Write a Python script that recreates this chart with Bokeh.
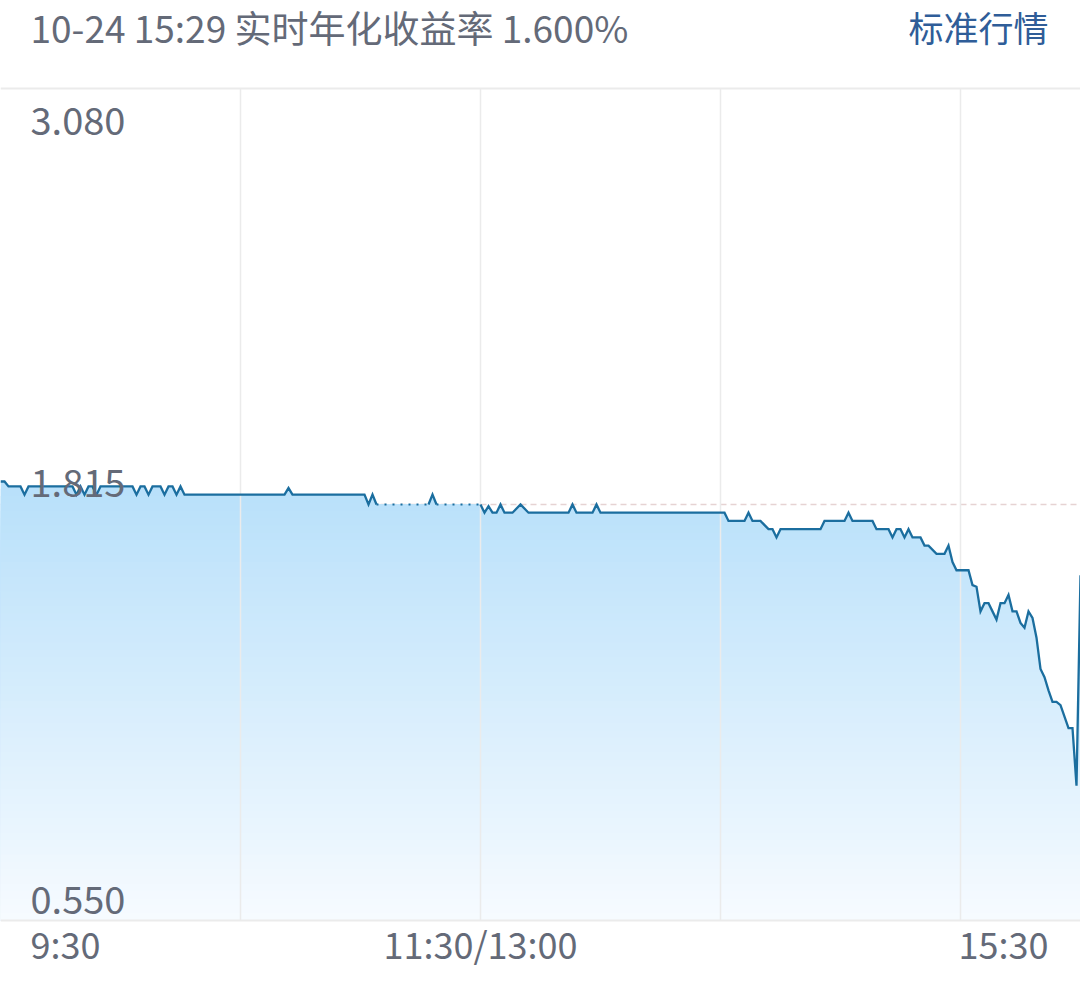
import numpy as np
from bokeh.plotting import figure
from bokeh.models import Range1d, Label
from bokeh.embed import file_html
from bokeh.resources import INLINE

# ---------------- data ----------------
date_str = "10-24"
time_str = "15:29"
metric_name = "实时年化收益率"
latest_rate = 1.600
right_title = "标准行情"

prev_close = 1.815
y_min, y_max = 0.550, 3.080
y_tick_vals = [3.080, 1.815, 0.550]
y_tick_labels = ["3.080", "1.815", "0.550"]

session_minutes = 270          # 9:30-11:30 + 13:00-15:30
x_tick_vals = [0, 120, 270]
x_tick_labels = ["9:30", "11:30/13:00", "15:30"]
grid_minutes = [60, 120, 180, 240]

# vertices of the intraday line (minute since 9:30, rate)
minute = [0, 1, 2,
          5, 6, 7,
          18, 19, 20, 21, 22,
          23, 24, 25,
          33, 34, 35,
          36, 37, 38,
          40, 41, 42,
          43, 44, 45, 46,
          71, 72, 73,
          91, 92, 93, 94,
          107, 108, 109,
          120, 121, 122, 123, 124, 125, 126, 128, 130, 132,
          142, 143, 144, 148, 149, 150,
          181, 182, 186, 187, 188, 190, 192, 193, 194, 195,
          205, 206, 211, 212, 213, 218, 219,
          222, 223, 224, 225, 226, 227, 228, 230, 231, 232, 234, 236, 237, 238, 239,
          242, 243, 244, 245, 246, 247, 248, 249, 250, 251, 252, 253, 254, 255, 256,
          257, 258, 259, 260, 261, 262, 263, 264, 265, 266, 267, 268, 269, 270]
rate = [1.885, 1.885, 1.870,
        1.870, 1.845, 1.870,
        1.870, 1.845, 1.870, 1.845, 1.870,
        1.870, 1.845, 1.870,
        1.870, 1.845, 1.870,
        1.870, 1.845, 1.870,
        1.870, 1.845, 1.870,
        1.870, 1.845, 1.870, 1.845,
        1.845, 1.865, 1.845,
        1.845, 1.815, 1.845, 1.815,
        1.815, 1.845, 1.815,
        1.815, 1.790, 1.810, 1.790, 1.790, 1.815, 1.790, 1.790, 1.815, 1.790,
        1.790, 1.815, 1.790, 1.790, 1.815, 1.790,
        1.790, 1.765, 1.765, 1.790, 1.765, 1.765, 1.740, 1.740, 1.715, 1.740,
        1.740, 1.765, 1.765, 1.790, 1.765, 1.765, 1.740,
        1.740, 1.715, 1.740, 1.740, 1.715, 1.740, 1.715, 1.715, 1.690, 1.690, 1.665, 1.665, 1.690, 1.640, 1.615,
        1.615, 1.570, 1.565, 1.490, 1.515, 1.515, 1.490, 1.465, 1.515, 1.515, 1.540, 1.490, 1.490, 1.455, 1.440,
        1.490, 1.470, 1.410, 1.315, 1.290, 1.250, 1.215, 1.215, 1.205, 1.170, 1.135, 1.135, 0.960, latest_rate]

# stretches without trades (drawn dotted)
gap_start = [94, 109]
gap_end = [107, 120]

# ---------------- layout / styles ----------------
FONT = "Noto Sans CJK SC"
GRAY = "#646a78"
BLUE_TXT = "#2f5d98"
LINE_C = "#1b6e9f"

W, H = 1080, 984
TOP_PX, BOTTOM_PX = 88, 64           # header band and x-label band
plot_px = H - TOP_PX - BOTTOM_PX
per_px = (y_max - y_min) / plot_px
view_lo = y_min - BOTTOM_PX * per_px
view_hi = y_max + TOP_PX * per_px

p = figure(width=W, height=H,
           x_range=Range1d(0, session_minutes), y_range=Range1d(view_lo, view_hi),
           output_backend="svg", toolbar_location=None,
           x_axis_location=None, y_axis_location=None,
           min_border=0)
p.grid.visible = False
p.outline_line_color = None
p.background_fill_color = "white"
p.border_fill_color = "white"

# previous close dashed line (under the fill)
p.segment(x0=[0], y0=[prev_close], x1=[session_minutes], y1=[prev_close],
          line_color="#e6d3d3", line_width=1.5, line_dash="6 4")

# gradient fill built from stacked areas
t = np.array(minute, dtype=float)
r = np.array(rate, dtype=float)
top_c = np.array([184, 224, 250])
bot_c = np.array([247, 251, 255])
r_top = r.max()
n_bands = 60
caps = np.linspace(r_top, y_min, n_bands + 1)[:-1]
for cap in caps:
    frac = (cap - y_min) / (r_top - y_min)
    c = bot_c + (top_c - bot_c) * frac
    col = "#%02x%02x%02x" % tuple(int(round(v)) for v in c)
    p.varea(x=t, y1=y_min, y2=np.minimum(r, cap), fill_color=col)

# grid / frame lines
p.segment(x0=grid_minutes, y0=[y_min] * len(grid_minutes),
          x1=grid_minutes, y1=[y_max] * len(grid_minutes),
          line_color="#ebebeb", line_width=1.5)
p.hspan(y=[y_min, y_max], line_color="#ebebeb", line_width=2)

# line: solid and dotted pieces
gaps = set(zip(gap_start, gap_end))
solid_xs, solid_ys, dot_xs, dot_ys = [], [], [], []
cur_x, cur_y = [minute[0]], [rate[0]]
for i in range(len(minute) - 1):
    a, b = minute[i], minute[i + 1]
    if (a, b) in gaps:
        solid_xs.append(cur_x); solid_ys.append(cur_y)
        dot_xs.append([a, b]); dot_ys.append([rate[i], rate[i + 1]])
        cur_x, cur_y = [b], [rate[i + 1]]
    else:
        cur_x.append(b); cur_y.append(rate[i + 1])
solid_xs.append(cur_x); solid_ys.append(cur_y)

p.multi_line(xs=solid_xs, ys=solid_ys, line_color=LINE_C, line_width=2.3, line_join="miter")
p.multi_line(xs=dot_xs, ys=dot_ys, line_color=LINE_C, line_width=2, line_dash="2 6")

# header texts
header = f"{date_str} {time_str} {metric_name} {latest_rate:.3f}%"
p.add_layout(Label(x=0, y=y_max, x_offset=30, y_offset=62, text=header,
                   text_font=FONT, text_font_size="37px", text_color=GRAY,
                   text_baseline="middle", text_align="left"))
p.add_layout(Label(x=session_minutes, y=y_max, x_offset=-32, y_offset=62, text=right_title,
                   text_font=FONT, text_font_size="35px", text_color=BLUE_TXT,
                   text_baseline="middle", text_align="right"))

# y labels inside the plot
for val, lab in zip(y_tick_vals, y_tick_labels):
    if val == y_max:
        off = -32
    elif val == y_min:
        off = 21
    else:
        off = 22
    p.add_layout(Label(x=0, y=val, x_offset=30, y_offset=off, text=lab,
                       text_font=FONT, text_font_size="38px", text_color=GRAY,
                       text_baseline="middle", text_align="left"))

# x labels below the plot
for val, lab in zip(x_tick_vals, x_tick_labels):
    if val == 0:
        align, xo = "left", 30
    elif val == session_minutes:
        align, xo = "right", -32
    else:
        align, xo = "center", 0
    p.add_layout(Label(x=val, y=y_min, x_offset=xo, y_offset=-22, text=lab,
                       text_font=FONT, text_font_size="36px", text_color=GRAY,
                       text_baseline="middle", text_align=align))

open("out.html", "w").write(file_html(p, INLINE))
